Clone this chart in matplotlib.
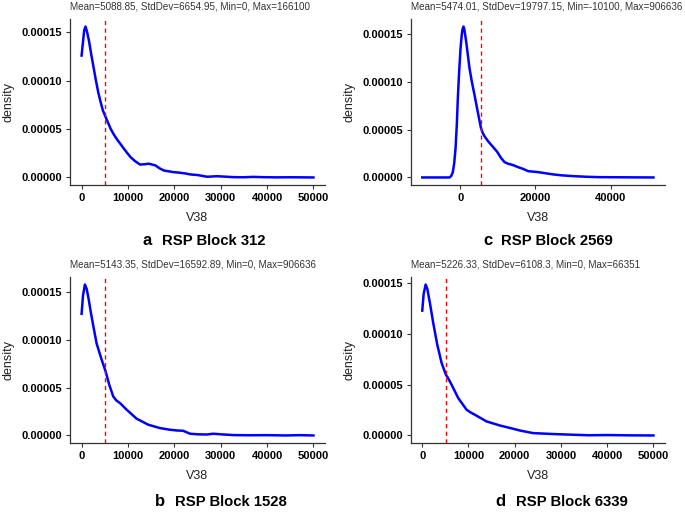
import numpy as np
import matplotlib
matplotlib.use("Agg")
import matplotlib.pyplot as plt

plt.rcParams['font.family'] = ['Liberation Sans', 'DejaVu Sans']

# density curves (density values in units of 1e-5)
a_x = [0, 300, 550, 850, 1200, 1600, 2090, 2650, 3100, 3590, 4100, 4590, 5240, 6250, 7000,
       7690, 8400, 9120, 9800, 10560, 11500, 12570, 13500, 14510, 15950, 16800, 17740,
       19800, 21000, 22300, 23500, 25000, 27100, 29200, 31000, 32800, 35000, 37000, 39000,
       42000, 45000, 48000, 50000]
a_y = [12.6, 14.0, 15.2, 15.6, 15.0, 14.1, 12.7, 11.2, 10.0, 8.8, 7.8, 6.93, 6.18, 5.04, 4.4,
       3.9, 3.45, 2.97, 2.55, 2.1, 1.7, 1.34, 1.36, 1.42, 1.24, 0.95, 0.72,
       0.55, 0.5, 0.42, 0.31, 0.25, 0.07, 0.13, 0.08, 0.03, 0.02, 0.06, 0.03,
       0.01, 0.02, 0.01, 0.0]

c_x = [-10100, -6000, -3500, -2850, -2400, -1970, -1600, -1250, -900, -640, -300, 80, 400,
       600, 880, 1100, 1590, 2000, 2480, 3100, 3810, 4500, 5150, 5500, 6000, 6480, 7500,
       8710, 9800, 10930, 11800, 12710, 14000, 15380, 16700, 18050, 20690, 22500, 24700,
       27000, 30030, 33600, 37000, 42000, 46000, 51400]
c_y = [0, 0, 0, 0, 0.15, 0.56, 1.5, 3.02, 5.6, 8.27, 11.0, 13.5, 14.9,
       15.5, 15.8, 15.5, 14.2, 12.9, 11.4, 10.0, 8.62, 7.2, 5.9, 5.2, 4.65, 4.3, 3.75,
       3.2, 2.7, 2.0, 1.6, 1.44, 1.3, 1.08, 0.9, 0.66, 0.56, 0.45, 0.32,
       0.22, 0.14, 0.07, 0.03, 0.02, 0.01, 0.0]

b_x = [0, 300, 710, 1100, 1500, 1940, 2500, 3240, 4320, 5180, 5960, 6820, 7500, 8270,
       9710, 11870, 14380, 16900, 19000, 20510, 21900, 23380, 25000, 26990, 28400, 30000,
       32730, 36000, 40000, 44000, 47000, 50000]
b_y = [12.7, 14.6, 15.76, 15.3, 14.3, 13.0, 11.5, 9.6, 7.92, 6.69, 5.3, 4.08, 3.65, 3.39,
       2.69, 1.75, 1.12, 0.77, 0.6, 0.52, 0.49, 0.18, 0.12, 0.1, 0.18, 0.12,
       0.04, 0.02, 0.03, 0.0, 0.03, 0.0]

d_x = [0, 300, 730, 1100, 1660, 2370, 3240, 4180, 5110, 5500, 6340, 7770, 9580, 10500,
       11370, 13890, 16770, 19650, 21070, 23950, 28270, 32590, 36000, 40000, 45000, 50000]
d_y = [12.27, 13.9, 14.83, 14.4, 13.0, 11.06, 8.93, 7.13, 5.97, 5.7, 4.99, 3.68, 2.53, 2.25,
       2.04, 1.38, 0.98, 0.66, 0.49, 0.23, 0.14, 0.07, 0.02, 0.04, 0.01, 0.0]

means = [5088.85, 5474.01, 5143.35, 5226.33]
titles = ["Mean=5088.85, StdDev=6654.95, Min=0, Max=166100",
          "Mean=5474.01, StdDev=19797.15, Min=-10100, Max=906636",
          "Mean=5143.35, StdDev=16592.89, Min=0, Max=906636",
          "Mean=5226.33, StdDev=6108.3, Min=0, Max=66351"]
letters = ["a", "c", "b", "d"]
captions = ["RSP Block 312", "RSP Block 2569", "RSP Block 1528", "RSP Block 6339"]
xticks_list = [[0, 10000, 20000, 30000, 40000, 50000], [0, 20000, 40000],
               [0, 10000, 20000, 30000, 40000, 50000], [0, 10000, 20000, 30000, 40000, 50000]]
yticks = [0, 0.00005, 0.0001, 0.00015]

W, H = 685, 514
fig = plt.figure(figsize=(W / 100, H / 100), dpi=100)

# panel boxes in pixels: left, top, right, bottom
boxes = [(70, 19, 325, 185), (410.7, 19, 665, 185), (70, 277, 325, 443), (410.7, 277, 665, 443)]
# caption positions: letter x, text x, baseline y
cap_pos = [(142.7, 162.3, 245), (483.3, 500.7, 245), (155, 175, 505.5), (495, 515.7, 505.5)]

data = [(a_x, a_y), (c_x, c_y), (b_x, b_y), (d_x, d_y)]
grey = '#333333'

for i, ((xs, ys), box) in enumerate(zip(data, boxes)):
    l, t, r, b = box
    ax = fig.add_axes([l / W, 1 - b / H, (r - l) / W, (b - t) / H])
    xs = np.array(xs, dtype=float)
    ys = np.array(ys) * 1e-5
    ax.plot(xs, ys, color='blue', lw=1.8, solid_joinstyle='round')
    ax.axvline(means[i], color='#ff0000', lw=1.0, ls=(0, (3, 2.5)))

    xr = xs.max() - xs.min()
    ax.set_xlim(xs.min() - 0.05 * xr, xs.max() + 0.05 * xr)
    yr = ys.max() - ys.min()
    ax.set_ylim(ys.min() - 0.05 * yr, ys.max() + 0.05 * yr)

    ax.set_xticks(xticks_list[i])
    ax.set_xticklabels([str(v) for v in xticks_list[i]])
    ax.set_yticks(yticks)
    ax.set_yticklabels(['%.5f' % v for v in yticks])
    for lab in ax.get_xticklabels() + ax.get_yticklabels():
        lab.set_fontweight('bold')
        lab.set_fontsize(8)
        lab.set_color('black')
    ax.tick_params(length=3, width=0.8, color=grey, pad=2.5)

    for s in ['top', 'right']:
        ax.spines[s].set_visible(False)
    for s in ['left', 'bottom']:
        ax.spines[s].set_color(grey)
        ax.spines[s].set_linewidth(0.9)

    ax.set_xlabel('V38', fontsize=9, color='#222222')
    ax.set_ylabel('density', fontsize=9, color='#222222')
    # label offsets from the panel edges, in pixels
    ax.xaxis.set_label_coords(0.5, -27 / (b - t))
    ax.yaxis.set_label_coords(-55 / (r - l), 0.5)
    ax.xaxis.label.set_va('top')

    ax.set_title(titles[i], loc='left', fontsize=7.1, color=grey, pad=6.5)

    lx, tx, by = cap_pos[i]
    fig.text(lx / W, 1 - by / H, letters[i], fontsize=12, fontweight='bold', ha='left', va='baseline')
    fig.text(tx / W, 1 - by / H, captions[i], fontsize=10.7, fontweight='bold', ha='left', va='baseline')

fig.savefig('out.png', dpi=100)
